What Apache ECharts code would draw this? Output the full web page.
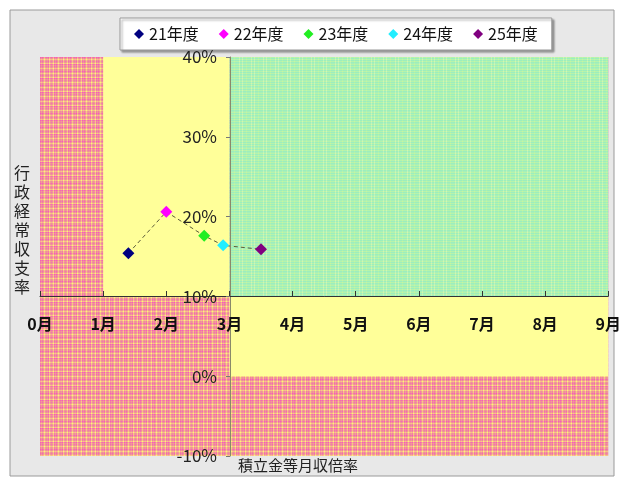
<!DOCTYPE html>
<html>
<head>
<meta charset="utf-8">
<script src="https://cdn.jsdelivr.net/npm/echarts@6/dist/echarts.min.js"></script>
<style>
  html, body { margin: 0; padding: 0; background: #fff; }
  #chart { width: 624px; height: 479px; }
</style>
</head>
<body>
<div id="chart"></div>
<script>
// 年度
const years = ['21年度', '22年度', '23年度', '24年度', '25年度']
// 積立金等月収倍率 (月)
const monthRatio = [1.4, 2.0, 2.6, 2.9, 3.5]
// 行政経常収支率 (%)
const balanceRate = [15.4, 20.6, 17.6, 16.4, 15.9]
const yearColors = ['#000080', '#ff00ff', '#22ee22', '#22eeff', '#800080']

// 背景の区分 [x1, y1, x2, y2, 種類]
const zones = [
  [0, -10, 9, 40, 'pink'],
  [1, 10, 3, 40, 'yellow'],
  [3, 10, 9, 40, 'green'],
  [3, 0, 9, 10, 'yellow']
]

// 模様タイル
function makeTile(cols, rows) {
  const c = document.createElement('canvas')
  c.width = cols.length
  c.height = rows.length
  const ctx = c.getContext('2d')
  const hex = h => [1, 3, 5].map(i => parseInt(h.substr(i, 2), 16))
  for (let x = 0; x < cols.length; x++) {
    for (let y = 0; y < rows.length; y++) {
      const a = hex(cols[x]), b = hex(rows[y])
      ctx.fillStyle = 'rgb(' + a.map((v, i) => Math.round((v + b[i]) / 2)).join(',') + ')'
      ctx.fillRect(x, y, 1, 1)
    }
  }
  return c
}
const P = '#f85cb8', S = '#ee9f92', Y = '#fff27a', L = '#f27aa8'
const pinkTile = makeTile(
  [P, S, Y, S, L, S, P, Y, S, L, S, Y, P, S],
  [S, P, S, Y, S, L, S, Y, P, S, L, S, Y, S]
)
const G1 = '#90ecc4', G2 = '#c4f6a0', G3 = '#a8f0b8', G4 = '#e2f8b8'
const greenTile = makeTile(
  [G3, G3, G4, G3, G3, G3, G2, G3, G3, G3, G3, G4],
  [G1, G2, G1, G3, G2, G1, G2, G1, G3, G2, G1, G2]
)
const zoneColor = {
  pink: { image: pinkTile, repeat: 'repeat' },
  green: { image: greenTile, repeat: 'repeat' },
  yellow: '#ffff99'
}

const font = '"Noto Sans CJK JP", sans-serif'
let myEcharts = echarts.init(document.getElementById('chart'))

let option = {
  backgroundColor: '#ffffff',
  animation: false,
  textStyle: { fontFamily: font },
  graphic: [
    {
      type: 'rect',
      shape: { x: 10, y: 10, width: 604, height: 466 },
      style: { fill: '#e8e8e8', stroke: '#9a9a9a', lineWidth: 1 },
      z: -10
    },
    {
      type: 'text',
      left: 14,
      top: 163,
      style: {
        text: '行政経常収支率'.split('').join('\n'),
        fontSize: 16,
        lineHeight: 19,
        fill: '#222',
        fontFamily: font
      }
    },
    {
      type: 'text',
      left: 238,
      top: 458,
      style: {
        text: '積立金等月収倍率',
        fontSize: 15,
        fill: '#222',
        fontFamily: font
      }
    }
  ],
  legend: {
    data: years,
    left: 120,
    top: 18,
    icon: 'diamond',
    itemWidth: 10,
    itemHeight: 10,
    itemGap: 20,
    padding: [8, 14, 8, 14],
    backgroundColor: '#ffffff',
    borderColor: '#999',
    borderWidth: 1,
    shadowColor: 'rgba(0,0,0,0.35)',
    shadowBlur: 2,
    shadowOffsetX: 2,
    shadowOffsetY: 2,
    textStyle: { fontSize: 16, color: '#111', fontFamily: font }
  },
  grid: { left: 40, right: 13, top: 57, bottom: 23, containLabel: false },
  xAxis: {
    type: 'value',
    min: 0,
    max: 9,
    interval: 1,
    position: 'bottom',
    offset: -160, // 10%の位置で交差
    z: 5,
    axisLine: { show: true, onZero: false, lineStyle: { color: '#333', width: 1 } },
    axisTick: { show: true, inside: true, length: 5, lineStyle: { color: '#333' } },
    axisLabel: {
      formatter: '{value}月',
      fontSize: 16,
      fontWeight: 'bold',
      color: '#111',
      margin: 20,
      showMinLabel: true,
      showMaxLabel: true
    },
    splitLine: { show: false }
  },
  yAxis: {
    type: 'value',
    min: -10,
    max: 40,
    interval: 10,
    position: 'left',
    offset: -190, // 3月の位置で交差
    z: 5,
    axisLine: { show: true, onZero: false, lineStyle: { color: '#8a8a6a', width: 1 } },
    axisTick: { show: true, length: 4, lineStyle: { color: '#777' } },
    axisLabel: {
      formatter: '{value}%',
      fontSize: 17,
      color: '#222',
      margin: 13
    },
    splitLine: { show: false }
  },
  series: [
    {
      name: 'trend',
      type: 'line',
      data: monthRatio.map((x, i) => [x, balanceRate[i]]),
      symbol: 'none',
      lineStyle: { color: '#5c5c3a', width: 1, type: [4, 3] },
      silent: true,
      z: 3,
      markArea: {
        silent: true,
        data: zones.map(z => [
          { xAxis: z[0], yAxis: z[1], itemStyle: { color: zoneColor[z[4]], opacity: 1 } },
          { xAxis: z[2], yAxis: z[3] }
        ])
      }
    },
    ...years.map((name, i) => ({
      name: name,
      type: 'scatter',
      data: [[monthRatio[i], balanceRate[i]]],
      symbol: 'diamond',
      symbolSize: 12,
      itemStyle: { color: yearColors[i], opacity: 1 },
      z: 10
    }))
  ]
}
myEcharts.setOption(option)
</script>
</body>
</html>
